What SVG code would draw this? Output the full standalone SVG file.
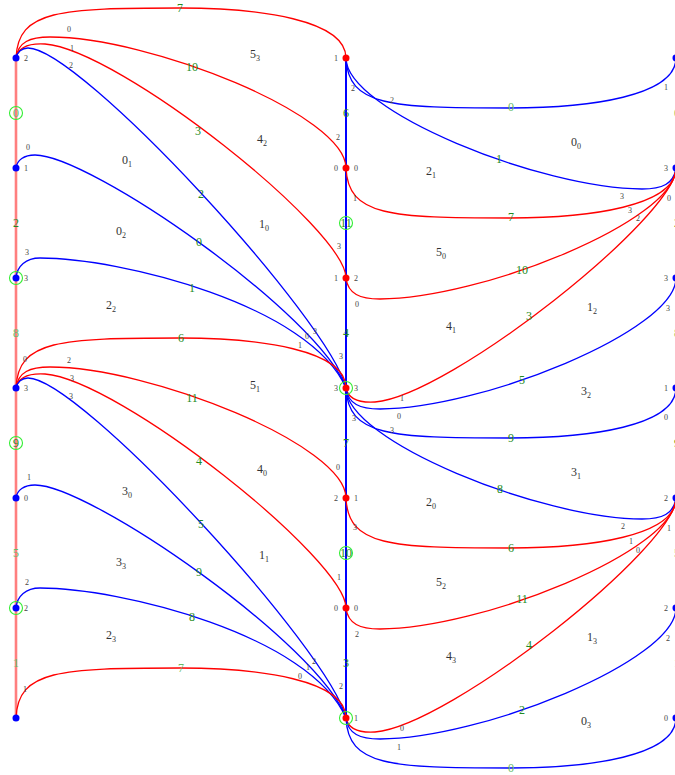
<svg xmlns="http://www.w3.org/2000/svg" xmlns:xlink="http://www.w3.org/1999/xlink" width="675" height="775" viewBox="0 0 675 775">
<style>
.r{fill:none;stroke:#ff0000;stroke-width:1.3}
.b{fill:none;stroke:#0000ff;stroke-width:1.3}
.nb{fill:#0000ff}
.nr{fill:#ff0000}
.ring{fill:none;stroke:#33ee33;stroke-width:1.1}
.g{font-family:"Liberation Serif",serif;font-size:12px;fill:#228b22;text-anchor:middle}
.gl{font-family:"Liberation Serif",serif;font-size:12px;fill:#66bb66;text-anchor:middle}
.p{font-family:"Liberation Serif",serif;font-size:8px;fill:#444;text-anchor:middle}
.f{font-family:"Liberation Serif",serif;font-size:12px;fill:#333;text-anchor:middle}
.s{font-size:8px}
</style>
<defs>
<path id="cA" d="M16,58 C18,10 60,8 180,8 C260,8 346,20 346,58"/>
<path id="cB" d="M16,58 C18,42 30,37 50,37 C150,37 346,115 346,168"/>
<path id="cC" d="M16,58 C18,48 28,43 45,44 C120,50 346,230 346,278"/>
<path id="cD" d="M16,58 C17,52 22,48 28,48 C80,48 330,320 346,388"/>
<path id="cE" d="M16,168 C17,160 24,155 35,155 C90,155 320,315 346,388"/>
<path id="cF" d="M16,278 C17,266 26,258 40,258 C120,258 310,305 346,388"/>
<g id="leftBlock">
<use xlink:href="#cA" class="r"/>
<use xlink:href="#cB" class="r"/>
<use xlink:href="#cC" class="r"/>
<use xlink:href="#cD" class="b"/>
<use xlink:href="#cE" class="b"/>
<use xlink:href="#cF" class="b"/>
</g>
<g id="rightBlock">
<use xlink:href="#cA" class="b" transform="matrix(1,0,0,-1,330,116)"/>
<use xlink:href="#cB" class="b" transform="matrix(-1,0,0,-1,692,226)"/>
<use xlink:href="#cA" class="r" transform="matrix(1,0,0,-1,330,226)"/>
<use xlink:href="#cB" class="r" transform="matrix(1,0,0,-1,330,336)"/>
<use xlink:href="#cC" class="r" transform="matrix(1,0,0,-1,330,446)"/>
<use xlink:href="#cB" class="b" transform="matrix(1,0,0,-1,330,446)"/>
</g>
</defs>
<rect width="675" height="775" fill="#ffffff"/>
<g id="connectors">
<line x1="16" y1="58" x2="16" y2="718" stroke="#ff0000" stroke-opacity="0.5" stroke-width="2.6"/>
<line x1="346" y1="58" x2="346" y2="718" stroke="#0000ff" stroke-width="2"/>
<use xlink:href="#leftBlock"/>
<use xlink:href="#leftBlock" transform="translate(0,330)"/>
<use xlink:href="#cA" class="r" transform="translate(0,660)"/>
<use xlink:href="#rightBlock"/>
<use xlink:href="#rightBlock" transform="translate(0,330)"/>
<use xlink:href="#cA" class="b" transform="matrix(1,0,0,-1,330,776)"/>
</g>
<g id="edge-labels">
<circle class="ring" cx="16" cy="113" r="6.5"/><text class="gl" x="16" y="117">0</text>
<text class="g" x="16" y="227">2</text>
<text class="gl" x="16" y="337">8</text>
<circle class="ring" cx="16" cy="443" r="6.5"/><text class="g" x="16" y="447">9</text>
<text class="gl" x="16" y="557">5</text>
<text class="gl" x="16" y="667">1</text>
<text class="g" x="346" y="117">6</text>
<circle class="ring" cx="346" cy="223" r="6.5"/><text class="g" x="346" y="227">11</text>
<text class="g" x="346" y="337">4</text>
<text class="g" x="346" y="447">7</text>
<circle class="ring" cx="346" cy="553" r="6.5"/><text class="g" x="346" y="557">10</text>
<text class="g" x="346" y="667">3</text>
<text class="gl" x="677" y="117">0</text>
<text class="g" x="677" y="227">2</text>
<text class="gl" x="677" y="337">8</text>
<text class="g" x="677" y="447">9</text>
<text class="gl" x="677" y="557">5</text>
<text class="gl" x="677" y="667">1</text>
<text class="g" x="180" y="12">7</text>
<text class="g" x="192" y="71">10</text>
<text class="g" x="198" y="135">3</text>
<text class="g" x="201" y="198">2</text>
<text class="g" x="199" y="246">0</text>
<text class="g" x="192" y="292">1</text>
<text class="g" x="181" y="342">6</text>
<text class="g" x="192" y="402">11</text>
<text class="g" x="199" y="465">4</text>
<text class="g" x="201" y="528">5</text>
<text class="g" x="199" y="576">9</text>
<text class="g" x="192" y="621">8</text>
<text class="gl" x="181" y="672">7</text>
<text class="gl" x="511" y="111">0</text>
<text class="g" x="499" y="163">1</text>
<text class="g" x="511" y="221">7</text>
<text class="g" x="522" y="274">10</text>
<text class="g" x="529" y="320">3</text>
<text class="g" x="522" y="384">5</text>
<text class="g" x="511" y="442">9</text>
<text class="g" x="500" y="493">8</text>
<text class="g" x="511" y="552">6</text>
<text class="g" x="522" y="603">11</text>
<text class="g" x="529" y="649">4</text>
<text class="g" x="522" y="714">2</text>
<text class="gl" x="511" y="772">0</text>
</g>
<g id="nodes">
<g id="L0"><circle class="nb" cx="16" cy="58" r="3.5"/><text class="p" x="26" y="61">2</text></g>
<g id="L1"><circle class="nb" cx="16" cy="168" r="3.5"/><text class="p" x="26" y="171">1</text></g>
<g id="L2"><circle class="ring" cx="16" cy="278" r="6.5"/><circle class="nb" cx="16" cy="278" r="3.5"/><text class="p" x="26" y="281">3</text></g>
<g id="L3"><circle class="nb" cx="16" cy="388" r="3.5"/><text class="p" x="26" y="391">3</text></g>
<g id="L4"><circle class="nb" cx="16" cy="498" r="3.5"/><text class="p" x="26" y="501">0</text></g>
<g id="L5"><circle class="ring" cx="16" cy="608" r="6.5"/><circle class="nb" cx="16" cy="608" r="3.5"/><text class="p" x="26" y="611">2</text></g>
<g id="L6"><circle class="nb" cx="16" cy="718" r="3.5"/></g>
<g id="M0"><circle class="nr" cx="346" cy="58" r="3.5"/><text class="p" x="336" y="61">1</text></g>
<g id="M1"><circle class="nr" cx="346" cy="168" r="3.5"/><text class="p" x="336" y="171">0</text><text class="p" x="356" y="171">0</text></g>
<g id="M2"><circle class="nr" cx="346" cy="278" r="3.5"/><text class="p" x="336" y="281">1</text><text class="p" x="356" y="281">2</text></g>
<g id="M3"><circle class="ring" cx="346" cy="388" r="6.5"/><circle class="nr" cx="346" cy="388" r="3.5"/><text class="p" x="336" y="391">3</text><text class="p" x="356" y="391">3</text></g>
<g id="M4"><circle class="nr" cx="346" cy="498" r="3.5"/><text class="p" x="336" y="501">2</text><text class="p" x="356" y="501">1</text></g>
<g id="M5"><circle class="nr" cx="346" cy="608" r="3.5"/><text class="p" x="336" y="611">0</text><text class="p" x="356" y="611">0</text></g>
<g id="M6"><circle class="ring" cx="346" cy="718" r="6.5"/><circle class="nr" cx="346" cy="718" r="3.5"/><text class="p" x="356" y="721">1</text></g>
<g id="R0"><circle class="nb" cx="676" cy="58" r="3.5"/></g>
<g id="R1"><circle class="nb" cx="676" cy="168" r="3.5"/><text class="p" x="666" y="171">3</text></g>
<g id="R2"><circle class="nb" cx="676" cy="278" r="3.5"/><text class="p" x="666" y="281">3</text></g>
<g id="R3"><circle class="nb" cx="676" cy="388" r="3.5"/><text class="p" x="666" y="391">1</text></g>
<g id="R4"><circle class="nb" cx="676" cy="498" r="3.5"/><text class="p" x="666" y="501">2</text></g>
<g id="R5"><circle class="nb" cx="676" cy="608" r="3.5"/><text class="p" x="666" y="611">2</text></g>
<g id="R6"><circle class="nb" cx="676" cy="718" r="3.5"/><text class="p" x="666" y="721">0</text></g>
</g>
<g id="port-labels">
<text class="p" x="69" y="32">0</text><text class="p" x="72" y="51">1</text><text class="p" x="71" y="68">2</text>
<text class="p" x="28" y="150">0</text><text class="p" x="27" y="255">3</text>
<text class="p" x="25" y="362">0</text><text class="p" x="69" y="363">2</text><text class="p" x="72" y="381">3</text><text class="p" x="71" y="399">3</text>
<text class="p" x="29" y="480">1</text><text class="p" x="27" y="585">2</text><text class="p" x="25" y="692">1</text>
<text class="p" x="353" y="91">2</text><text class="p" x="392" y="103">2</text>
<text class="p" x="338" y="140">2</text><text class="p" x="355" y="201">1</text>
<text class="p" x="339" y="249">3</text><text class="p" x="357" y="307">0</text>
<text class="p" x="307" y="339">0</text><text class="p" x="315" y="334">3</text><text class="p" x="300" y="348">1</text><text class="p" x="341" y="359">3</text>
<text class="p" x="402" y="401">1</text><text class="p" x="354" y="421">3</text><text class="p" x="399" y="419">0</text><text class="p" x="392" y="433">3</text>
<text class="p" x="338" y="470">0</text><text class="p" x="355" y="530">3</text>
<text class="p" x="339" y="580">1</text><text class="p" x="357" y="637">2</text>
<text class="p" x="308" y="670">1</text><text class="p" x="314" y="664">2</text><text class="p" x="300" y="679">0</text><text class="p" x="341" y="689">2</text>
<text class="p" x="402" y="731">0</text><text class="p" x="399" y="750">1</text>
<text class="p" x="666" y="90">1</text>
<text class="p" x="622" y="199">3</text><text class="p" x="630" y="213">3</text><text class="p" x="638" y="221">2</text><text class="p" x="669" y="201">0</text>
<text class="p" x="668" y="311">3</text><text class="p" x="666" y="420">0</text>
<text class="p" x="623" y="529">2</text><text class="p" x="631" y="544">1</text><text class="p" x="638" y="553">0</text><text class="p" x="669" y="531">1</text>
<text class="p" x="668" y="641">2</text>
</g>
<g id="faces">
<text class="f" x="255" y="58">5<tspan class="s" dy="3">3</tspan></text>
<text class="f" x="262" y="143">4<tspan class="s" dy="3">2</tspan></text>
<text class="f" x="127" y="164">0<tspan class="s" dy="3">1</tspan></text>
<text class="f" x="264" y="228">1<tspan class="s" dy="3">0</tspan></text>
<text class="f" x="121" y="235">0<tspan class="s" dy="3">2</tspan></text>
<text class="f" x="111" y="309">2<tspan class="s" dy="3">2</tspan></text>
<text class="f" x="255" y="389">5<tspan class="s" dy="3">1</tspan></text>
<text class="f" x="262" y="473">4<tspan class="s" dy="3">0</tspan></text>
<text class="f" x="127" y="495">3<tspan class="s" dy="3">0</tspan></text>
<text class="f" x="264" y="559">1<tspan class="s" dy="3">1</tspan></text>
<text class="f" x="121" y="566">3<tspan class="s" dy="3">3</tspan></text>
<text class="f" x="111" y="639">2<tspan class="s" dy="3">3</tspan></text>
<text class="f" x="576" y="146">0<tspan class="s" dy="3">0</tspan></text>
<text class="f" x="431" y="175">2<tspan class="s" dy="3">1</tspan></text>
<text class="f" x="441" y="256">5<tspan class="s" dy="3">0</tspan></text>
<text class="f" x="451" y="330">4<tspan class="s" dy="3">1</tspan></text>
<text class="f" x="592" y="311">1<tspan class="s" dy="3">2</tspan></text>
<text class="f" x="586" y="395">3<tspan class="s" dy="3">2</tspan></text>
<text class="f" x="576" y="476">3<tspan class="s" dy="3">1</tspan></text>
<text class="f" x="431" y="506">2<tspan class="s" dy="3">0</tspan></text>
<text class="f" x="441" y="586">5<tspan class="s" dy="3">2</tspan></text>
<text class="f" x="451" y="660">4<tspan class="s" dy="3">3</tspan></text>
<text class="f" x="592" y="641">1<tspan class="s" dy="3">3</tspan></text>
<text class="f" x="586" y="725">0<tspan class="s" dy="3">3</tspan></text>
</g>
</svg>
